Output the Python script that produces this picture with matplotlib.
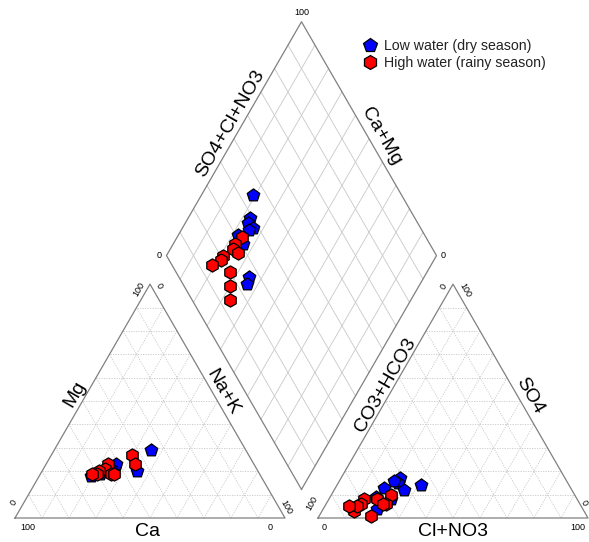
import numpy as np
import matplotlib
matplotlib.use('Agg')
import matplotlib.pyplot as plt
from matplotlib.lines import Line2D

plt.rcParams['font.family'] = ['Liberation Sans', 'DejaVu Sans']

# Low water (dry season) - percentages of meq
low_ca = [63, 56, 57, 52, 59, 51, 45, 35, 54]
low_mg = [18, 21, 20, 22, 19, 23, 20, 29, 21]
low_nak = [19, 23, 23, 26, 22, 26, 35, 36, 25]
low_hco3 = [55, 61, 63, 62, 69, 69, 74, 76, 64]
low_so4 = [14, 17, 15, 12, 13, 8, 9, 4, 16]
low_cl = [31, 22, 22, 26, 18, 23, 17, 20, 20]

# High water (rainy season)
high_ca = [56, 54, 56, 55, 59, 60, 62, 54, 43, 44]
high_mg = [20, 23, 21, 19, 20, 19, 19, 19, 27, 23]
high_nak = [24, 23, 23, 26, 21, 21, 19, 27, 30, 33]
high_hco3 = [68, 72, 74, 73, 79, 81, 85, 80, 83, 86]
high_so4 = [10, 6, 8, 6, 8, 6, 3, 1, 5, 5]
high_cl = [22, 22, 18, 21, 13, 13, 12, 19, 12, 9]

H = np.sqrt(3) / 2
PX = 1 / 270      # one pixel in triangle-side units
GAP = 33 * PX     # space between the two triangles (side = 1)

EDGE = '#808080'
GRID = '#c8c8c8'


def cation_xy(ca, mg, nak):
    tot = np.array(ca) + np.array(mg) + np.array(nak)
    mg = np.array(mg) / tot
    na = np.array(nak) / tot
    return na + 0.5 * mg, H * mg


def anion_xy(hco3, so4, cl):
    tot = np.array(hco3) + np.array(so4) + np.array(cl)
    so4 = np.array(so4) / tot
    cl = np.array(cl) / tot
    return 1 + GAP + cl + 0.5 * so4, H * so4


def diamond_xy(ca, mg, nak, hco3, so4, cl):
    ct = np.array(ca) + np.array(mg) + np.array(nak)
    at = np.array(hco3) + np.array(so4) + np.array(cl)
    n = np.array(nak) / ct
    s = (np.array(so4) + np.array(cl)) / at
    x = 1 + GAP / 2 - 0.5 * (1 - n) + 0.5 * s
    y = H * GAP + H * (1 - n) + H * s
    return x, y


def draw_triangle(ax, p0, p1, p2):
    pts = [np.array(p) for p in (p0, p1, p2)]
    for t in np.arange(0.1, 1.0, 0.1):
        for k in range(3):
            a = pts[k]
            b, c = pts[(k + 1) % 3], pts[(k + 2) % 3]
            q1 = t * a + (1 - t) * b
            q2 = t * a + (1 - t) * c
            ax.plot([q1[0], q2[0]], [q1[1], q2[1]], color=GRID, lw=0.6,
                    ls=(0, (1.5, 1.5)), zorder=1)
    xs = [p[0] for p in pts] + [pts[0][0]]
    ys = [p[1] for p in pts] + [pts[0][1]]
    ax.plot(xs, ys, color=EDGE, lw=0.9, zorder=2)


def draw_diamond(ax):
    b = np.array([1 + GAP / 2, H * GAP])
    ul = np.array([-0.5, H])
    ur = np.array([0.5, H])
    for t in np.arange(0.1, 1.0, 0.1):
        p = b + t * ul
        ax.plot([p[0], (p + ur)[0]], [p[1], (p + ur)[1]], color=GRID, lw=0.6, zorder=1)
        p = b + t * ur
        ax.plot([p[0], (p + ul)[0]], [p[1], (p + ul)[1]], color=GRID, lw=0.6, zorder=1)
    corners = [b, b + ul, b + ul + ur, b + ur, b]
    ax.plot([c[0] for c in corners], [c[1] for c in corners], color=EDGE, lw=0.9, zorder=2)
    return b, b + ul, b + ul + ur, b + ur


def edge_label(ax, p, q, text, off, shift, rot, size=14):
    # off: pixels out from the edge, shift: pixels along it (towards q)
    p, q = np.array(p), np.array(q)
    m = (p + q) / 2
    d = (q - p) / np.linalg.norm(q - p)
    nrm = np.array([-d[1], d[0]])
    c = m + off * PX * nrm + shift * PX * d
    ax.text(c[0], c[1], text, rotation=rot, ha='center', va='center',
            fontsize=size, rotation_mode='anchor')


fig = plt.figure(figsize=(5.89, 5.42), dpi=100)
ax = fig.add_axes([0, 0, 1, 1])
ax.set_xlim(-15 * PX, 574 * PX)
ax.set_ylim(-24 * PX, 518 * PX)
ax.axis('off')

# left (cation) triangle
A, B, C = (0, 0), (1, 0), (0.5, H)
draw_triangle(ax, A, B, C)
# right (anion) triangle
D, E, F = (1 + GAP, 0), (2 + GAP, 0), (1.5 + GAP, H)
draw_triangle(ax, D, E, F)
dB, dL, dT, dR = draw_diamond(ax)

# axis titles
edge_label(ax, B, A, 'Ca', 13, 2, 0)
edge_label(ax, A, C, 'Mg', 10, 2, 60)
edge_label(ax, C, B, 'Na+K', 9, -5, -60)
edge_label(ax, E, D, 'Cl+NO3', 13, 0, 0)
edge_label(ax, D, F, 'CO3+HCO3', 8, 14, 60)
edge_label(ax, F, E, 'SO4', 11, 0, -60)
edge_label(ax, dL, dT, 'SO4+Cl+NO3', 11, 11, 60)
edge_label(ax, dT, dR, 'Ca+Mg', 12, 4, -60)

# 0 / 100 end labels
fs = 6.5
u = PX
ax.text(A[0] + 13 * u, -10 * u, '100', ha='center', va='center', fontsize=fs)
ax.text(B[0] - 15 * u, -10 * u, '0', ha='center', va='center', fontsize=fs)
ax.text(A[0] - 1 * u, 15 * u, '0', rotation=60, ha='center', va='center', fontsize=fs)
ax.text(C[0] - 11 * u, C[1] - 5 * u, '100', rotation=60, ha='center', va='center', fontsize=fs)
ax.text(C[0] + 9 * u, C[1] - 2 * u, '0', rotation=-60, ha='center', va='center', fontsize=fs)
ax.text(B[0] + 1 * u, 11 * u, '100', rotation=-60, ha='center', va='center', fontsize=fs)

ax.text(D[0] + 6 * u, -10 * u, '0', ha='center', va='center', fontsize=fs)
ax.text(E[0] - 10 * u, -10 * u, '100', ha='center', va='center', fontsize=fs)
ax.text(D[0] - 6 * u, 15 * u, '100', rotation=60, ha='center', va='center', fontsize=fs)
ax.text(F[0] - 9 * u, F[1] - 2 * u, '0', rotation=60, ha='center', va='center', fontsize=fs)
ax.text(F[0] + 12 * u, F[1] - 6 * u, '100', rotation=-60, ha='center', va='center', fontsize=fs)
ax.text(E[0] - 4 * u, 15 * u, '0', rotation=-60, ha='center', va='center', fontsize=fs)

ax.text(dT[0], dT[1] + 9 * u, '100', ha='center', va='center', fontsize=fs)
ax.text(dL[0] - 7 * u, dL[1], '0', ha='center', va='center', fontsize=fs)
ax.text(dR[0] + 7 * u, dR[1], '0', ha='center', va='center', fontsize=fs)

# points
series = [
    (low_ca, low_mg, low_nak, low_hco3, low_so4, low_cl, 'p', '#0000ff'),
    (high_ca, high_mg, high_nak, high_hco3, high_so4, high_cl, 'h', '#ff0000'),
]
for ca, mg, nak, hco3, so4, cl, mk, col in series:
    kw = dict(marker=mk, s=90, c=col, edgecolors='black', linewidths=0.9, zorder=5)
    x, y = cation_xy(ca, mg, nak)
    ax.scatter(x, y, **kw)
    x, y = anion_xy(hco3, so4, cl)
    ax.scatter(x, y, **kw)
    x, y = diamond_xy(ca, mg, nak, hco3, so4, cl)
    ax.scatter(x, y, **kw)

handles = [
    Line2D([], [], ls='none', marker='p', ms=10, mfc='#0000ff', mec='black', mew=0.9),
    Line2D([], [], ls='none', marker='h', ms=10, mfc='#ff0000', mec='black', mew=0.9),
]
leg = fig.legend(handles, ['Low water (dry season)', 'High water (rainy season)'],
                 loc='upper left', bbox_to_anchor=(363 / 589, 1 - 39 / 542),
                 frameon=False, fontsize=10.2, handlelength=1.0, handletextpad=0.45,
                 labelspacing=0.2, borderpad=0, borderaxespad=0)
for t in leg.get_texts():
    t.set_color('#222222')

fig.savefig('out.png', dpi=100)
